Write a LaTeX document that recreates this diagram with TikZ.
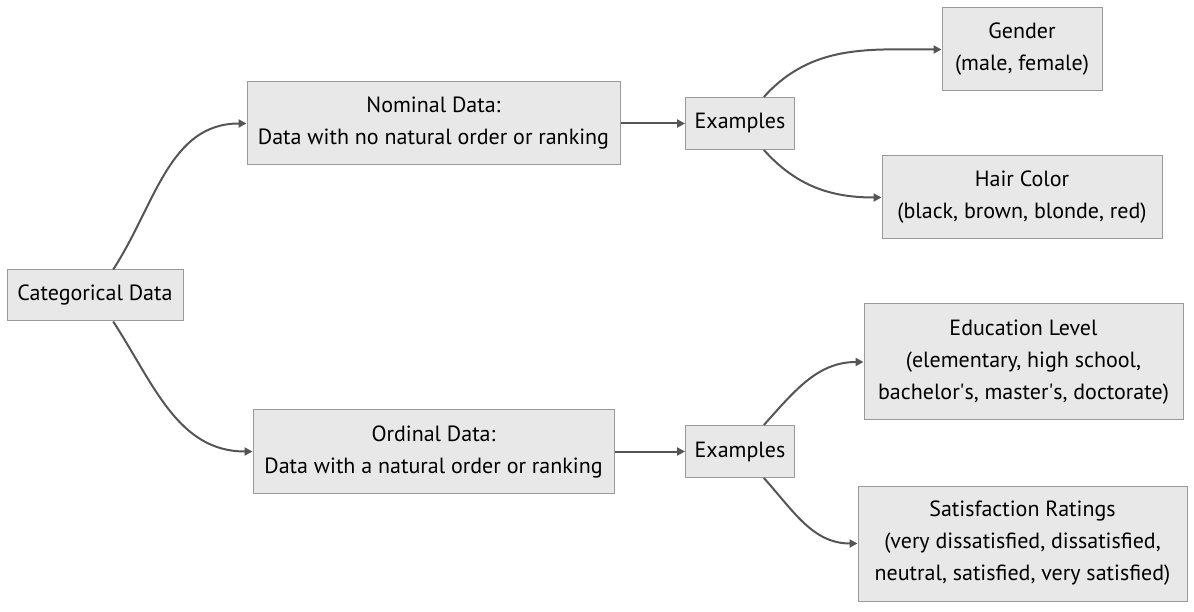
\documentclass[tikz,border=0pt]{standalone}
\usepackage{fontspec}
\setmainfont{PT Sans}
\usetikzlibrary{arrows.meta}
\usepackage{xcolor}
\definecolor{boxfill}{HTML}{E8E8E8}
\definecolor{boxline}{HTML}{9A9A9A}
\definecolor{linkline}{HTML}{555555}
\tikzset{%
	data box/.style={
		draw=boxline,
		fill=boxfill,
		line width=1pt,
		align=center,
		inner sep=0pt,
		font=\fontsize{22}{32}\selectfont
	},
	data link/.style={
		draw=linkline,
		line width=2pt,
		-{Triangle[length=8pt,width=8pt]}
	},
}
\begin{document}
\begin{tikzpicture}[x=1pt,y=1pt]
	% Keep the canvas as large as the reference
	\useasboundingbox (0,0) rectangle (1194,611);
	
	% Draw the root and the two kinds of data
	\node[data box, minimum width=176, minimum height=51] (cat) at (95,315.5) {Categorical Data};
	\node[data box, minimum width=373, minimum height=83] (nom) at (433.5,487.5) {Nominal Data:\\Data with no natural order or ranking};
	\node[data box, minimum width=361, minimum height=83] (ord) at (433.5,159.5) {Ordinal Data:\\Data with a natural order or ranking};
	
	% Draw the two example nodes
	\node[data box, minimum width=109, minimum height=52] (exA) at (740,487.5) {Examples};
	\node[data box, minimum width=109, minimum height=52] (exB) at (740,159.5) {Examples};
	
	% Draw the examples themselves
	\node[data box, minimum width=160, minimum height=83] (gen) at (1022,561.5) {Gender\\(male, female)};
	\node[data box, minimum width=280, minimum height=83] (hair) at (1022,413.5) {Hair Color\\(black, brown, blonde, red)};
	\node[data box, minimum width=319, minimum height=116] (edu) at (1023.5,249) {Education Level\\(elementary, high school,\\bachelor\textquotesingle s, master\textquotesingle s, doctorate)};
	\node[data box, minimum width=329, minimum height=115] (sat) at (1022.5,67.5) {Satisfaction Ratings\\(very dissatisfied, dissatisfied,\\neutral, satisfied, very satisfied)};
	
	% Connect the nodes
	\draw[data link] (cat.55) to[out=57,in=180] (nom.west);
	\draw[data link] (cat.-55) to[out=-57,in=180] (ord.west);
	\draw[data link] (nom.east) -- (exA.west);
	\draw[data link] (ord.east) -- (exB.west);
	\foreach \src/\dst/\ang in {exA/gen/48, exA/hair/-48, exB/edu/48, exB/sat/-48}
		\draw[data link] (\src.\ang) to[out=\ang,in=180] (\dst.west);
	
\end{tikzpicture}
\end{document}
